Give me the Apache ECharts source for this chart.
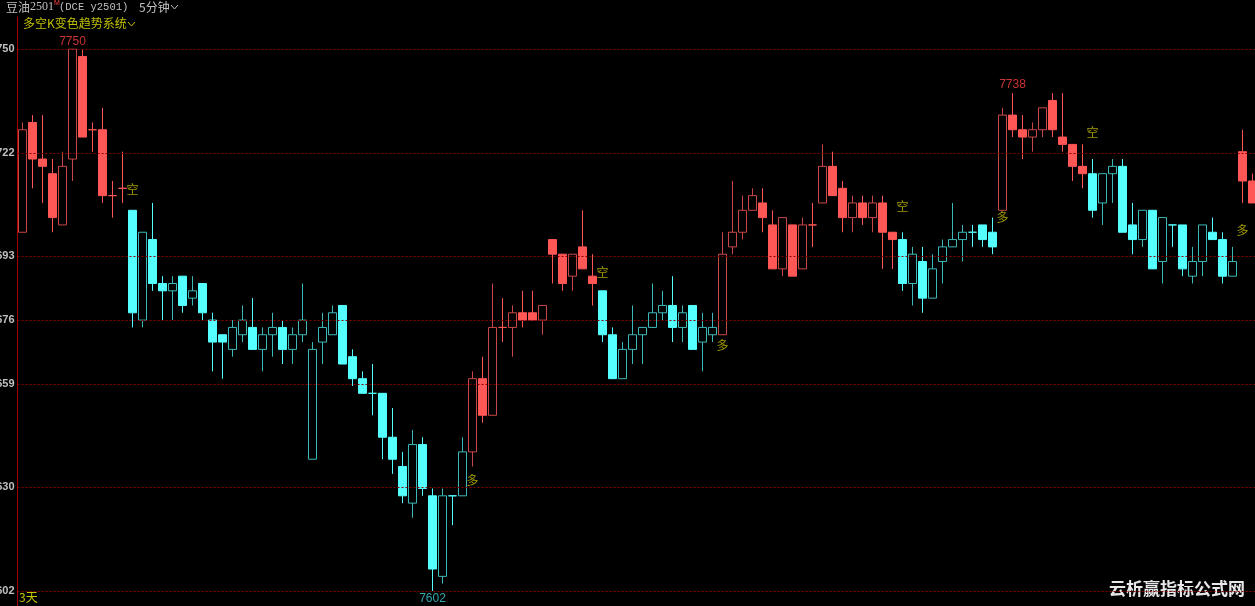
<!DOCTYPE html>
<html><head><meta charset="utf-8">
<script src="https://cdn.jsdelivr.net/npm/echarts@6/dist/echarts.min.js"></script>
<style>html,body{margin:0;padding:0;background:#000;}#c{width:1255px;height:606px;}</style>
</head><body><div id="c"></div>
<script>
// ---- data ----
const opens  = [7700,7730,7720,7716,7702,7720,7748,7728,7728,7710,7712,7706,7676,7698,7686,7684,7688,7682,7686,7676,
                7672,7668,7672,7674,7668,7672,7674,7668,7672,7638,7670,7672,7680,7666,7660,7656,7656,7644,7636,7626,
                7642,7628,7606,7628,7628,7640,7660,7650,7674,7674,7678,7678,7676,7698,7694,7688,7696,7688,7684,7672,
                7660,7668,7672,7674,7678,7680,7674,7680,7670,7672,7672,7696,7700,7706,7708,7702,7690,7702,7690,7702,
                7708,7718,7712,7704,7708,7704,7708,7700,7698,7686,7692,7682,7692,7696,7698,7700,7702,7700,7706,7732,
                7728,7726,7728,7736,7726,7724,7718,7716,7708,7716,7718,7702,7698,7706,7692,7702,7702,7688,7692,7700,
                7698,7688,7722,7714];
const closes = [7728,7720,7718,7704,7718,7750,7726,7728,7710,7710,7712,7678,7700,7686,7684,7686,7680,7684,7678,7670,
                7670,7674,7676,7668,7672,7674,7668,7672,7676,7668,7674,7678,7664,7660,7656,7656,7644,7638,7628,7642,
                7630,7608,7628,7628,7640,7660,7650,7674,7674,7678,7676,7676,7680,7694,7686,7694,7690,7686,7672,7660,
                7668,7672,7674,7678,7680,7674,7678,7668,7674,7674,7694,7700,7706,7710,7704,7690,7704,7688,7702,7702,
                7718,7710,7704,7708,7704,7708,7700,7698,7686,7694,7682,7690,7696,7698,7700,7700,7698,7696,7732,7728,
                7726,7728,7734,7728,7724,7718,7716,7706,7716,7718,7700,7698,7706,7690,7704,7702,7690,7692,7702,7698,
                7688,7692,7714,7708];
const lows   = [7700,7712,7708,7700,7702,7714,7726,7722,7708,7704,7708,7674,7674,7684,7676,7676,7678,7680,7676,7662,
                7660,7666,7670,7668,7662,7666,7664,7664,7670,7638,7664,7672,7664,7658,7656,7650,7638,7634,7626,7622,
                7628,7602,7604,7620,7628,7636,7648,7650,7670,7666,7674,7676,7672,7686,7684,7684,7690,7680,7670,7660,
                7660,7664,7664,7674,7676,7670,7670,7668,7662,7670,7672,7694,7698,7706,7700,7690,7688,7688,7690,7696,
                7708,7710,7700,7700,7702,7700,7690,7690,7684,7680,7678,7682,7686,7696,7692,7696,7696,7694,7706,7726,
                7720,7722,7726,7726,7722,7714,7712,7704,7702,7708,7700,7694,7696,7690,7686,7696,7688,7686,7688,7698,
                7686,7688,7708,7708];
const highs  = [7730,7732,7732,7720,7722,7750,7750,7730,7734,7714,7722,7706,7700,7708,7688,7688,7688,7688,7686,7678,
                7672,7676,7680,7682,7674,7678,7676,7674,7686,7670,7678,7680,7680,7668,7662,7664,7656,7652,7640,7646,
                7644,7630,7630,7628,7644,7662,7666,7686,7682,7680,7684,7684,7680,7698,7694,7694,7706,7694,7684,7674,
                7670,7680,7674,7686,7684,7688,7680,7680,7678,7678,7700,7714,7710,7712,7712,7706,7704,7702,7704,7708,
                7724,7722,7714,7710,7710,7710,7710,7700,7700,7696,7696,7694,7698,7708,7702,7702,7702,7704,7734,7738,
                7732,7730,7734,7738,7738,7724,7724,7720,7716,7720,7720,7708,7706,7706,7704,7702,7702,7696,7702,7704,
                7700,7696,7728,7716];
// trend signals (bar index, text, price level where the text sits)
const signalIdx   = [11, 45, 58, 70, 88, 98, 107, 122];
const signalText  = ['空','多','空','多','空','多','空','多'];
const signalPrice = [7711.6, 7632.3, 7689.0, 7669.2, 7707.0, 7704.1, 7727.4, 7700.4];
// extreme price marks
const extremeIdx   = [5, 41, 99];
const extremeValue = [7750, 7602, 7738];
// y axis levels & labels
const tickValues = [7750, 7721.7, 7693.5, 7676, 7658.5, 7630.3, 7602];
const tickLabels = ['7750','7722','7693','7676','7659','7630','7602'];

// ---- styles ----
const RED = '#FF5656', RED_LINE = '#C84848';
const CYAN = '#55FFFF', CYAN_LINE = '#3CB8B8';

const cats = opens.map((_, i) => String(i + 1));
// trend state: starts bullish (red), flips at each signal
const trendOf = i => {
  let t = 1;
  signalIdx.forEach((s, k) => { if (i >= s) t = signalText[k] === '多' ? 1 : -1; });
  return t;
};
const candleData = opens.map((o, i) => {
  const c = closes[i];
  const bull = trendOf(i) > 0;
  const solid = bull ? RED : CYAN, line = bull ? RED_LINE : CYAN_LINE;
  const up = c > o;
  const fill = up ? '#000' : solid, stroke = up ? line : solid;
  return { value: [o, c, lows[i], highs[i]],
    itemStyle: { color: fill, color0: fill, borderColor: stroke, borderColor0: stroke, borderColorDoji: line } };
});

const chart = echarts.init(document.getElementById('c'), null, { renderer: 'canvas' });
chart.setOption({
  backgroundColor: '#000',
  animation: false,
  grid: { left: 17.5, width: 1240, top: 17, bottom: 0, containLabel: false, outerBoundsMode: 'none' },
  xAxis: { type: 'category', data: cats, boundaryGap: true, show: false },
  yAxis: {
    type: 'value', min: 7597.9, max: 7758.8, position: 'left',
    axisLine: { show: true, lineStyle: { color: '#A80000', width: 1 } },
    axisTick: { show: false },
    splitLine: { show: false },
    axisLabel: {
      customValues: tickValues,
      margin: 3, hideOverlap: false,
      color: '#C0C0C0', fontSize: 11, fontWeight: 'bold', fontFamily: 'Liberation Sans, Arial',
      formatter: v => { const k = tickValues.findIndex(t => Math.abs(t - v) < 0.01); return k >= 0 ? tickLabels[k] : ''; }
    }
  },
  series: [
    {
      type: 'candlestick', data: candleData, barWidth: 8,
      itemStyle: { borderWidth: 1 },
      markLine: {
        silent: true, symbol: ['none', 'none'], label: { show: false },
        lineStyle: { color: '#8A0000', type: [2, 2], width: 1 },
        data: tickValues.map(v => ({ yAxis: v }))
      }
    },
    {
      type: 'scatter', symbolSize: 0, silent: true,
      data: signalIdx.map((s, k) => ({ value: [s, signalPrice[k]], name: signalText[k] })),
      label: { show: true, position: 'inside', formatter: p => p.name, color: '#C8C000', fontSize: 12,
               fontFamily: 'Noto Sans CJK SC' }
    },
    {
      type: 'scatter', symbolSize: 0, silent: true,
      data: extremeIdx.map((s, k) => {
        const isLow = extremeValue[k] === Math.min(...extremeValue);
        return { value: [s, extremeValue[k]], name: String(extremeValue[k]),
          label: { position: isLow ? 'bottom' : 'top', color: isLow ? '#3CD0D8' : '#FF4040' } };
      }),
      label: { show: true, distance: 2, formatter: p => p.name, fontSize: 12, fontFamily: 'Liberation Sans, Arial' }
    }
  ],
  graphic: [
    { type: 'text', x: 6, y: 1, style: { text: '豆油', fill: '#C0C0C0', font: '12px "Noto Sans CJK SC"' } },
    { type: 'text', x: 30, y: 1, style: { text: '2501', fill: '#C0C0C0', font: '12px "Liberation Serif"' } },
    { type: 'text', x: 54, y: -0.5, style: { text: 'M', fill: '#FF4040', font: '7px "Liberation Sans"' } },
    { type: 'text', x: 59, y: 2, style: { text: '(DCE y2501)', fill: '#C0C0C0', font: '10.5px "Liberation Mono"' } },
    { type: 'text', x: 139, y: 1, style: { text: '5分钟', fill: '#C0C0C0', font: '12px "Noto Sans CJK SC"' } },
    { type: 'polyline', shape: { points: [[171, 5], [174.5, 9], [178, 5]] }, style: { stroke: '#C0C0C0', lineWidth: 1, fill: null } },
    { type: 'text', x: 23, y: 17, style: { text: '多空K变色趋势系统', fill: '#C0C000', font: '12px "Noto Sans CJK SC"' } },
    { type: 'polyline', shape: { points: [[128, 22], [131.5, 26], [135, 22]] }, style: { stroke: '#C0C000', lineWidth: 1, fill: null } },
    { type: 'text', x: 19, y: 591, style: { text: '3天', fill: '#C8C800', font: '12px "Noto Sans CJK SC"' } },
    { type: 'text', right: 10, top: 580, style: { text: '云析赢指标公式网', fill: '#E8E8E8', font: 'bold 17px "Noto Sans CJK SC"' } }
  ]
});
</script>
</body></html>
